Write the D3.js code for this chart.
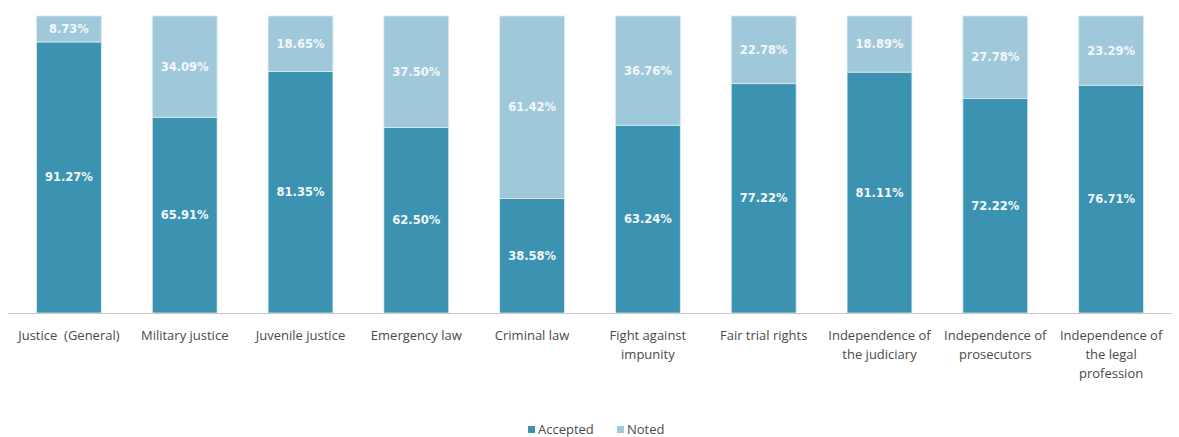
<!DOCTYPE html>
<html>
<head>
<meta charset="utf-8">
<script src="https://cdn.jsdelivr.net/npm/d3@7"></script>
<style>
  body { margin: 0; background: #fff; }
  text { white-space: pre; }
</style>
</head>
<body>
<div id="chart"></div>
<script>
// data ------------------------------------------------------------
const categories = ["Justice  (General)", "Military justice", "Juvenile justice", "Emergency law",
  "Criminal law", "Fight against impunity", "Fair trial rights", "Independence of the judiciary",
  "Independence of prosecutors", "Independence of the legal profession"];
const categoryLines = [["Justice  (General)"], ["Military justice"], ["Juvenile justice"], ["Emergency law"],
  ["Criminal law"], ["Fight against", "impunity"], ["Fair trial rights"], ["Independence of", "the judiciary"],
  ["Independence of", "prosecutors"], ["Independence of", "the legal", "profession"]];
const accepted = [91.27, 65.91, 81.35, 62.50, 38.58, 63.24, 77.22, 81.11, 72.22, 76.71];
const noted = [8.73, 34.09, 18.65, 37.50, 61.42, 36.76, 22.78, 18.89, 27.78, 23.29];
const seriesNames = ["Accepted", "Noted"];
const colors = ["#3b93b1", "#9fc9da"];

// setup -----------------------------------------------------------
const svgWidth = 1179, svgHeight = 437;
const margin = {top: 16, left: 11, right: 10};
const baseY = 313;

const svg = d3.select("#chart").append("svg")
  .attr("width", svgWidth).attr("height", svgHeight);

const x = d3.scaleBand()
  .domain(categories)
  .range([margin.left, svgWidth - margin.right])
  .paddingInner(0.44).paddingOuter(0.22);

const y = d3.scaleLinear().domain([0, 100]).range([baseY, margin.top]);

const rows = categories.map((c, i) => ({cat: c, Accepted: accepted[i], Noted: noted[i]}));
const stacked = d3.stack().keys(seriesNames)(rows);

// bars
const layers = svg.append("g").selectAll("g")
  .data(stacked).enter().append("g")
  .attr("fill", (d, i) => colors[i]);

layers.selectAll("rect")
  .data(d => d).enter().append("rect")
  .attr("x", d => x(d.data.cat))
  .attr("y", d => y(d[1]))
  .attr("width", x.bandwidth())
  .attr("height", d => y(d[0]) - y(d[1]))
  .attr("stroke", "#dcebf1")
  .attr("stroke-width", 0.8);

// value labels
layers.selectAll("text")
  .data(d => d).enter().append("text")
  .attr("x", d => x(d.data.cat) + x.bandwidth() / 2)
  .attr("y", d => (y(d[0]) + y(d[1])) / 2 + 4)
  .attr("text-anchor", "middle")
  .attr("font-family", "DejaVu Sans")
  .attr("font-weight", "bold")
  .attr("font-size", "11.5px")
  .attr("fill", "#f4f8fa")
  .text(d => (d[1] - d[0]).toFixed(2) + "%");

// x axis
const xAxis = svg.append("g")
  .attr("transform", `translate(0,${baseY})`)
  .call(d3.axisBottom(x).tickSize(0).tickFormat(""));
xAxis.select(".domain").attr("stroke", "#c8c8c8").attr("stroke-width", 1.2)
  .attr("d", `M8,0.5H1172`);

const catLabels = svg.append("g")
  .attr("font-family", "Open Sans")
  .attr("font-size", "13px")
  .attr("fill", "#4a4a4a")
  .attr("text-anchor", "middle");

catLabels.selectAll("text")
  .data(categories).enter().append("text")
  .attr("x", d => x(d) + x.bandwidth() / 2)
  .attr("y", baseY + 27)
  .each(function(d, i) {
    d3.select(this).selectAll("tspan")
      .data(categoryLines[i]).enter().append("tspan")
      .attr("x", x(d) + x.bandwidth() / 2)
      .attr("dy", (t, j) => j === 0 ? 0 : 19)
      .text(t => t);
  });

// legend
const legend = svg.append("g")
  .attr("font-family", "Open Sans")
  .attr("font-size", "13px")
  .attr("fill", "#4a4a4a");
const legendX = [528, 617];
seriesNames.forEach((s, i) => {
  legend.append("rect").attr("x", legendX[i]).attr("y", 426)
    .attr("width", 7).attr("height", 7).attr("fill", colors[i]);
  legend.append("text").attr("x", legendX[i] + 10).attr("y", 434).text(s);
});
</script>
</body>
</html>
